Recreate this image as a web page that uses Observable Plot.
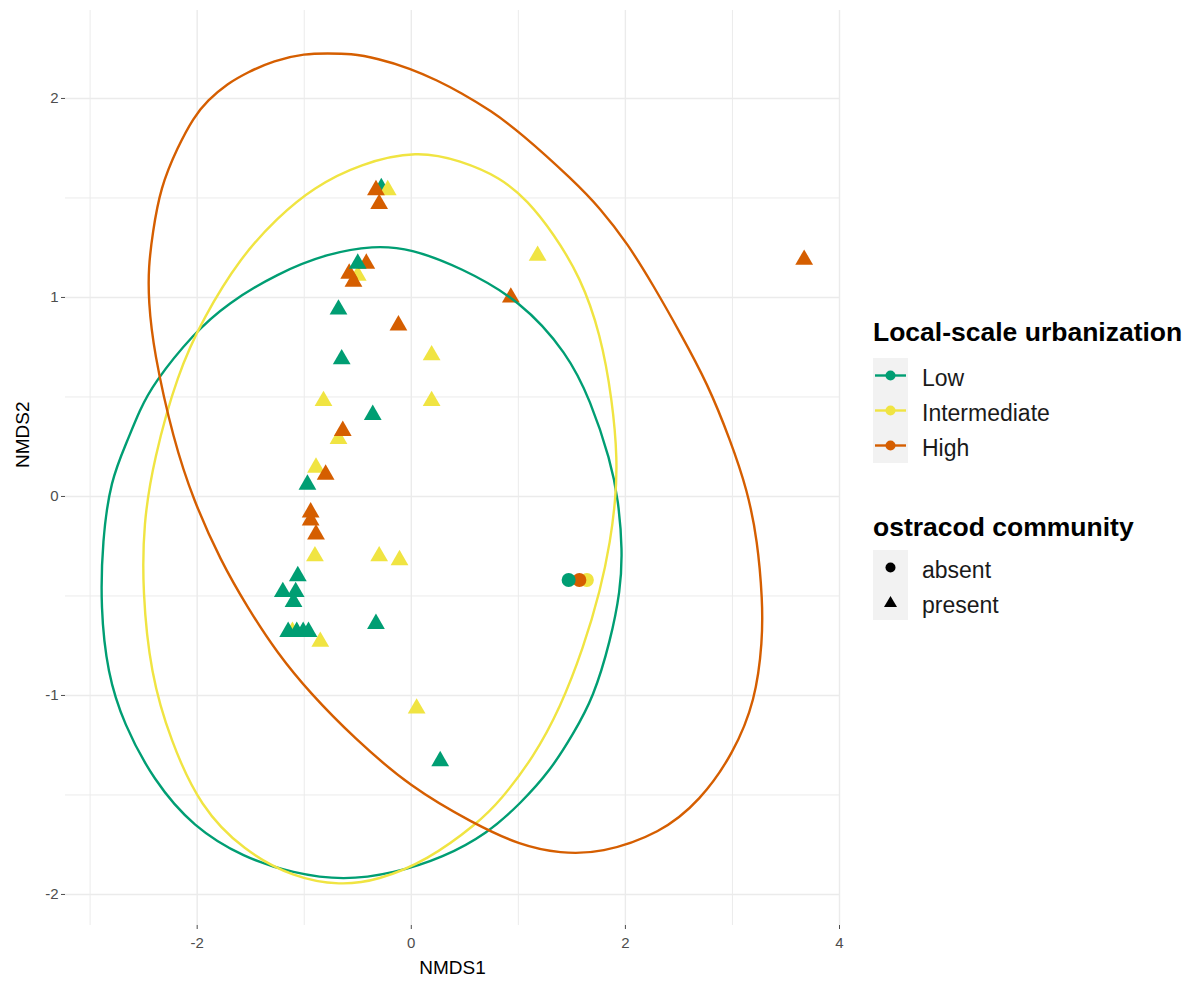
<!DOCTYPE html>
<html>
<head>
<meta charset="utf-8">
<script src="https://cdn.jsdelivr.net/npm/d3@7"></script>
<script src="https://cdn.jsdelivr.net/npm/@observablehq/plot@0.6"></script>
<style>
  html, body { margin: 0; padding: 0; background: #ffffff; }
  body { width: 1192px; height: 985px; position: relative; overflow: hidden;
         font-family: "Liberation Sans", Arial, Helvetica, sans-serif; }
  #chart { position: absolute; left: 0; top: 0; }
  .ltitle { position: absolute; left: 873px; font-weight: bold; font-size: 26.5px; line-height: 26px; white-space: nowrap; color: #000; }
  .keys { position: absolute; left: 873px; }
  .row { position: relative; height: 35px; }
  .keybox { position: absolute; left: 0; top: 0; width: 35px; height: 35px; background: #f2f2f2; }
  .lab { position: absolute; left: 49px; top: 3px; font-size: 23px; line-height: 35px; white-space: nowrap; color: #1a1a1a; }
</style>
</head>
<body>
<div id="chart"></div>
<div id="legend"></div>
<script>
// ---- categories & styling lists ----
const groupOrder = ["Low", "Intermediate", "High"];
const groupColors = ["#009E73", "#F0E442", "#D55E00"];
const communityLevels = ["absent", "present"];
const xTicks = [-2, 0, 2, 4];
const yTicks = [-2, -1, 0, 1, 2];
const xMinor = [-3, -1, 1, 3];
const yMinor = [-1.5, -0.5, 0.5, 1.5];

// ---- site scores (drawing order) ----
const ptGroup = [
  "Low",
  "Intermediate","Intermediate","Intermediate","Intermediate","Intermediate","Intermediate","Intermediate",
  "Intermediate","Intermediate","Intermediate","Intermediate","Intermediate","Intermediate","Intermediate",
  "High","High","High","High","High","High","High","High","High","High","High","High","High",
  "Low","Low","Low","Low","Low","Low","Low","Low","Low","Low","Low","Low","Low","Low","Low",
  "Intermediate","High","Low"
];
const ptCommunity = [
  "present",
  "present","present","present","present","present","present","present",
  "present","present","present","present","present","present","present",
  "present","present","present","present","present","present","present","present","present","present","present","present","present",
  "present","present","present","present","present","present","present","present","present","present","present","present","present","present","present",
  "absent","absent","absent"
];
const ptX = [
  -0.28,
  -0.22, 1.18, -0.50, 0.19, -0.82, 0.19, -0.68, -0.89, -0.90, -0.30, -0.11, -1.11, -0.85, 0.05,
  -0.33, -0.30, -0.42, -0.58, -0.54, 0.93, -0.12, -0.64, -0.80, -0.94, -0.94, -0.89, 3.67,
  -0.50, -0.68, -0.65, -0.36, -0.97, -1.06, -1.20, -1.08, -1.10, -1.15, -1.07, -1.01, -0.96, -0.33, 0.27,
  1.64, 1.57, 1.47
];
const ptY = [
  1.55,
  1.54, 1.21, 1.11, 0.71, 0.48, 0.48, 0.29, 0.145, -0.30, -0.30, -0.32, -0.68, -0.73, -1.065,
  1.54, 1.47, 1.17, 1.12, 1.08, 1.00, 0.86, 0.33, 0.11, -0.08, -0.12, -0.19, 1.19,
  1.17, 0.94, 0.69, 0.41, 0.06, -0.40, -0.48, -0.48, -0.53, -0.68, -0.68, -0.68, -0.68, -0.64, -1.33,
  -0.42, -0.42, -0.42
];

// ---- ellipse outlines ----
const lowEllipseX = [-0.353, -0.007, 0.460, 1.020, 1.459, 1.674, 1.861, 1.935, 1.973, 1.954, 1.861, 1.702, 1.515, 1.300, 1.020, 0.712, 0.301, -0.166, -0.633, -1.100, -1.567, -2.034, -2.408, -2.688, -2.838, -2.903, -2.885, -2.810, -2.651, -2.539, -2.408, -2.034, -1.717, -1.250, -0.783];
const lowEllipseY = [1.261, 1.246, 1.151, 0.985, 0.719, 0.482, 0.181, -0.020, -0.271, -0.472, -0.724, -1.010, -1.191, -1.377, -1.543, -1.693, -1.814, -1.894, -1.930, -1.894, -1.814, -1.663, -1.427, -1.141, -0.889, -0.558, -0.221, 0.080, 0.281, 0.432, 0.568, 0.819, 0.970, 1.121, 1.221];
const intEllipseX = [0.058, 0.460, 0.833, 1.086, 1.328, 1.581, 1.767, 1.879, 1.926, 1.907, 1.861, 1.767, 1.609, 1.394, 1.141, 0.833, 0.618, 0.151, -0.316, -0.661, -1.100, -1.567, -1.969, -2.250, -2.436, -2.511, -2.502, -2.408, -2.184, -1.941, -1.596, -1.250, -0.914, -0.475];
const intEllipseY = [1.739, 1.688, 1.603, 1.487, 1.322, 1.101, 0.819, 0.482, 0.181, -0.020, -0.221, -0.472, -0.759, -1.060, -1.312, -1.528, -1.643, -1.829, -1.930, -1.955, -1.915, -1.779, -1.563, -1.226, -0.889, -0.472, -0.136, 0.181, 0.618, 0.899, 1.201, 1.402, 1.553, 1.673];
const highEllipseX = [-0.783, -0.568, -0.316, -0.007, 0.245, 0.460, 0.740, 1.020, 1.515, 1.767, 2.020, 2.262, 2.515, 2.767, 2.982, 3.140, 3.234, 3.281, 3.281, 3.215, 3.010, 2.701, 2.328, 1.767, 1.394, 1.020, 0.581, -0.007, -0.540, -0.942, -1.250, -1.530, -1.782, -2.034, -2.221, -2.408, -2.455, -2.455, -2.417, -2.343, -2.184, -2.034, -1.903, -1.717, -1.530, -1.287, -0.988];
const highEllipseY = [2.226, 2.226, 2.201, 2.151, 2.090, 2.030, 1.940, 1.829, 1.588, 1.447, 1.271, 1.060, 0.819, 0.568, 0.281, 0.030, -0.221, -0.523, -0.724, -1.025, -1.291, -1.528, -1.693, -1.794, -1.794, -1.754, -1.643, -1.462, -1.211, -0.990, -0.789, -0.558, -0.322, -0.020, 0.281, 0.734, 0.985, 1.151, 1.322, 1.553, 1.754, 1.905, 1.990, 2.075, 2.131, 2.191, 2.226];

// ---- build tables ----
const points = ptX.map((x, i) => ({x, y: ptY[i], group: ptGroup[i], community: ptCommunity[i]}));
const present = points.filter(d => d.community === "present");
const absent = points.filter(d => d.community === "absent");
const ellipseSets = [["Low", lowEllipseX, lowEllipseY], ["Intermediate", intEllipseX, intEllipseY], ["High", highEllipseX, highEllipseY]];
const ellipses = ellipseSets.flatMap(([g, xs, ys]) => xs.map((x, i) => ({x, y: ys[i], group: g})));

const grid = "#ebebeb";
const chart = Plot.plot({
  width: 850,
  height: 985,
  marginLeft: 65,
  marginRight: 11,
  marginTop: 10,
  marginBottom: 60,
  style: {fontFamily: "'Liberation Sans', Arial, sans-serif", background: "transparent"},
  x: {domain: [-3.23, 4.0]},
  y: {domain: [-2.156, 2.442]},
  color: {domain: groupOrder, range: groupColors},
  symbol: {domain: communityLevels, range: ["circle", "triangle"]},
  marks: [
    Plot.gridX(xMinor, {stroke: grid, strokeOpacity: 1, strokeWidth: 1}),
    Plot.gridY(yMinor, {stroke: grid, strokeOpacity: 1, strokeWidth: 1}),
    Plot.gridX(xTicks, {stroke: grid, strokeOpacity: 1, strokeWidth: 1.4}),
    Plot.gridY(yTicks, {stroke: grid, strokeOpacity: 1, strokeWidth: 1.4}),
    Plot.axisX(xTicks, {tickSize: 4, tickPadding: 8, fontSize: 15, color: "#4d4d4d", label: null, tickFormat: d => String(d)}),
    Plot.axisY(yTicks, {tickSize: 4, tickPadding: 3, fontSize: 15, color: "#4d4d4d", label: null, tickFormat: d => String(d)}),
    Plot.dot(present, {x: "x", y: "y", fill: "group", symbol: "community", r: 6.6}),
    Plot.dot(absent, {x: "x", y: "y", fill: "group", symbol: "community", r: 7}),
    Plot.line(ellipses, {x: "x", y: "y", z: "group", stroke: "group", strokeWidth: 2.4, curve: "basis-closed"}),
    Plot.text(["NMDS1"], {frameAnchor: "bottom", dy: 48, fontSize: 19, fill: "#000"}),
    Plot.text(["NMDS2"], {frameAnchor: "left", dx: -43, rotate: -90, fontSize: 19, fill: "#000"})
  ]
});
document.getElementById("chart").appendChild(chart);

// ---- legend ----
const legend = document.getElementById("legend");
function addTitle(text, top) {
  const t = document.createElement("div");
  t.className = "ltitle";
  t.style.top = top + "px";
  t.textContent = text;
  legend.appendChild(t);
}
function addKeys(top, items) {
  const k = document.createElement("div");
  k.className = "keys";
  k.style.top = top + "px";
  items.forEach(([label, svg]) => {
    const r = document.createElement("div");
    r.className = "row";
    r.innerHTML = `<div class="keybox">${svg}</div><div class="lab">${label}</div>`;
    k.appendChild(r);
  });
  legend.appendChild(k);
}
addTitle("Local-scale urbanization", 319);
addKeys(358, groupOrder.map((g, i) => [g,
  `<svg width="35" height="35"><line x1="2" x2="33" y1="17.5" y2="17.5" stroke="${groupColors[i]}" stroke-width="2.4"/><circle cx="17.5" cy="17.5" r="5" fill="${groupColors[i]}"/></svg>`]));
addTitle("ostracod community", 514);
addKeys(550, [
  ["absent", `<svg width="35" height="35"><circle cx="17.5" cy="17.5" r="5" fill="#000"/></svg>`],
  ["present", `<svg width="35" height="35"><path d="M17.5,11 L24,22 L11,22 Z" fill="#000"/></svg>`]
]);
</script>
</body>
</html>
